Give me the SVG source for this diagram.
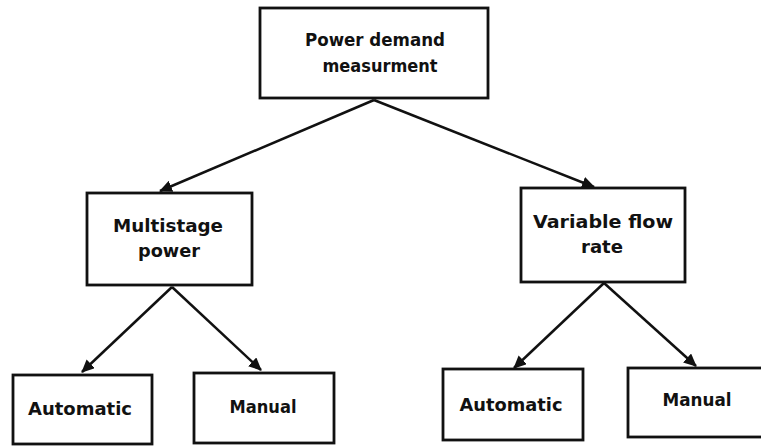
<svg xmlns="http://www.w3.org/2000/svg" width="761" height="446" viewBox="0 0 761 446">
  <style>
    .box { fill: #ffffff; stroke: #111111; stroke-width: 2.8; }
    .lbl { font-family: "DejaVu Sans", "Liberation Sans", sans-serif; font-weight: bold; font-size: 18px; fill: #111111; text-anchor: middle; }
    .edge { stroke: #111111; stroke-width: 2.5; fill: none; marker-end: url(#head); }
  </style>
  <defs>
    <marker id="head" markerUnits="userSpaceOnUse" markerWidth="13" markerHeight="12" viewBox="0 0 13 12" refX="12" refY="6" orient="auto">
      <path d="M0,0 L13,6 L0,12 Z" fill="#111111"/>
    </marker>
  </defs>
  <rect width="761" height="446" fill="#ffffff"/>

  <!-- connectors -->
  <g id="connectors">
    <line class="edge" x1="374" y1="100" x2="160" y2="191"/>
    <line class="edge" x1="374" y1="100" x2="594" y2="187"/>
    <line class="edge" x1="172" y1="287" x2="82" y2="372"/>
    <line class="edge" x1="172" y1="287" x2="261" y2="370"/>
    <line class="edge" x1="604" y1="283" x2="514" y2="368"/>
    <line class="edge" x1="604" y1="283" x2="696" y2="366"/>
  </g>

  <g id="power-demand">
    <rect class="box" x="260" y="8" width="228" height="90"/>
    <text class="lbl" x="375" y="46" textLength="140" lengthAdjust="spacingAndGlyphs">Power demand</text>
    <text class="lbl" x="380" y="72" textLength="115" lengthAdjust="spacingAndGlyphs">measurment</text>
  </g>

  <g id="multistage">
    <rect class="box" x="87" y="193" width="165" height="92"/>
    <text class="lbl" x="168" y="232" textLength="110" lengthAdjust="spacingAndGlyphs">Multistage</text>
    <text class="lbl" x="169" y="257" textLength="62" lengthAdjust="spacingAndGlyphs">power</text>
  </g>

  <g id="variable-flow">
    <rect class="box" x="521" y="188" width="164" height="94"/>
    <text class="lbl" x="603" y="228" textLength="140" lengthAdjust="spacingAndGlyphs">Variable flow</text>
    <text class="lbl" x="602" y="253" textLength="42" lengthAdjust="spacingAndGlyphs">rate</text>
  </g>

  <g id="auto-left">
    <rect class="box" x="13" y="375" width="139" height="69"/>
    <text class="lbl" x="80" y="415" textLength="104" lengthAdjust="spacingAndGlyphs">Automatic</text>
  </g>

  <g id="manual-left">
    <rect class="box" x="194" y="373" width="140" height="70"/>
    <text class="lbl" x="263" y="413" textLength="67" lengthAdjust="spacingAndGlyphs">Manual</text>
  </g>

  <g id="auto-right">
    <rect class="box" x="443" y="369" width="140" height="71"/>
    <text class="lbl" x="511" y="411" textLength="103" lengthAdjust="spacingAndGlyphs">Automatic</text>
  </g>

  <g id="manual-right">
    <rect class="box" x="628" y="368" width="140" height="69"/>
    <text class="lbl" x="697" y="406" textLength="69" lengthAdjust="spacingAndGlyphs">Manual</text>
  </g>
</svg>
